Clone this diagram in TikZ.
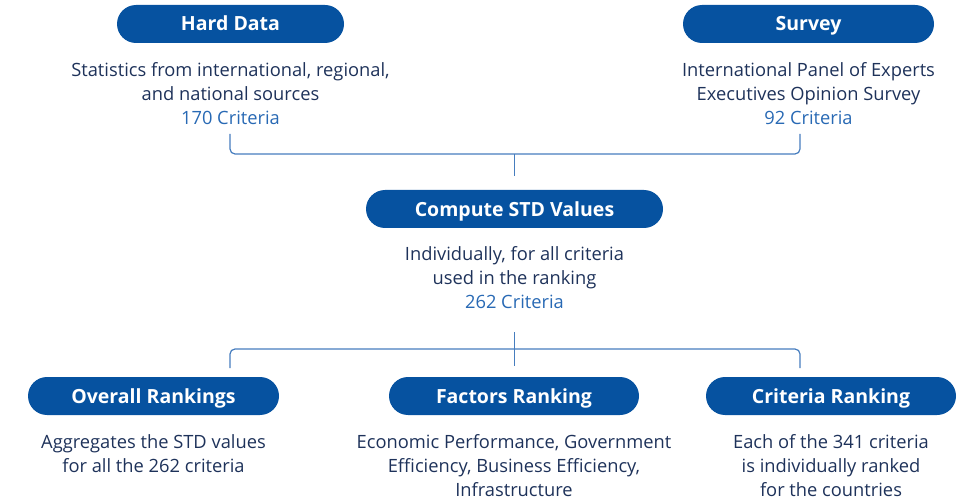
\documentclass[tikz,border=0pt]{standalone}
\usepackage{fontspec}
\setmainfont{Open Sans}
\definecolor{pillblue}{RGB}{6,82,160}
\definecolor{bodytxt}{RGB}{30,50,90}
\definecolor{crit}{RGB}{40,105,180}
\definecolor{linec}{RGB}{70,125,190}
\tikzset{
  pill/.style={fill=pillblue, text=white, rounded corners=19pt, minimum height=38pt, inner sep=0pt, text height=17pt, text depth=3pt, font=\fontsize{19.5}{22}\selectfont\bfseries},
  desc/.style={text=bodytxt, align=center, font=\fontsize{18.3}{24}\selectfont, inner sep=0pt},
  conn/.style={draw=linec, line width=1.2pt, rounded corners=5pt},
}
\begin{document}
\begin{tikzpicture}[x=1pt,y=-1pt]
\useasboundingbox (0,0) rectangle (962,500);
% pills
\node[pill, minimum width=227pt] (hard) at (230.5,24) {Hard Data};
\node[pill, minimum width=251pt] (survey) at (808.5,24) {Survey};
\node[pill, minimum width=297pt] (std) at (514.5,209) {Compute STD Values};
\node[pill, minimum width=251pt] (overall) at (153.5,396) {Overall Rankings};
\node[pill, minimum width=250pt] (factors) at (514,396) {Factors Ranking};
\node[pill, minimum width=250pt] (criteria) at (831,396) {Criteria Ranking};
% descriptions
\node[desc, anchor=north] (harddesc) at (230.5,62) {Statistics from international, regional,\\and national sources\\\textcolor{crit}{170 Criteria}};
\node[desc, anchor=north] (survdesc) at (808.5,62) {International Panel of Experts\\Executives Opinion Survey\\\textcolor{crit}{92 Criteria}};
\node[desc, anchor=north] (stddesc) at (514.5,246) {Individually, for all criteria\\used in the ranking\\\textcolor{crit}{262 Criteria}};
\node[desc, anchor=north] (ovdesc) at (153.5,434) {Aggregates the STD values\\for all the 262 criteria};
\node[desc, anchor=north] (facdesc) at (514,434) {Economic Performance, Government\\Efficiency, Business Efficiency,\\Infrastructure};
\node[desc, anchor=north] (crdesc) at (831,434) {Each of the 341 criteria\\is individually ranked\\for the countries};
% connector points
\coordinate (ta) at (230,134);
\coordinate (tb) at (800,134);
\coordinate (tm) at (514.5,154);
\coordinate (tc) at (514.5,176);
\coordinate (bm0) at (514.5,332);
\coordinate (bm) at (514.5,349);
\coordinate (bm1) at (514.5,366);
\coordinate (ba) at (230,368);
\coordinate (bb) at (800,368);
\draw[conn] (ta) |- (tm) -| (tb);
\draw[conn] (tm) -- (tc);
\draw[conn] (bm0) -- (bm1);
\draw[conn] (ba) |- (bm) -| (bb);
\end{tikzpicture}
\end{document}
